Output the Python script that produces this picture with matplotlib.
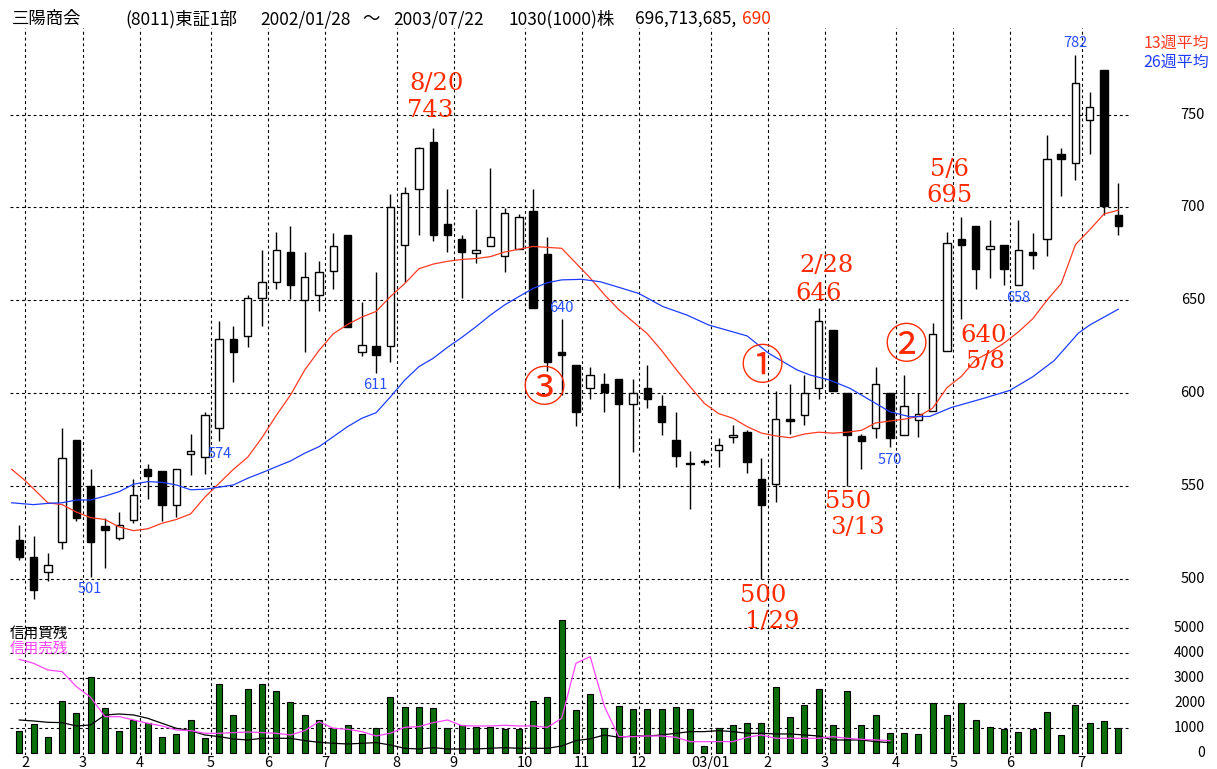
import numpy as np
import pandas as pd
import matplotlib
matplotlib.use('Agg')
import matplotlib.pyplot as plt
import matplotlib.transforms as mtransforms

plt.rcParams['font.family'] = ['Noto Sans CJK JP', 'DejaVu Sans']

# ---------------- data (weekly, 2002/01/28 - 2003/07/22) ----------------
start_date = '2002-01-28'
opens = [521, 512, 504, 520, 575, 550, 528.5, 522, 531.5, 559, 558, 540, 567, 565.5, 581, 629, 631, 651, 660, 676,
         650, 653, 666, 685, 622, 625.4, 625.5, 680, 710, 735, 691, 683, 675.6, 679, 674, 677.6, 698, 675, 622, 615,
         602.6, 605, 607.5, 594, 602.6, 593, 575, 562.5, 563, 569.4, 576.3, 579, 554, 551, 586, 588, 603, 634, 600, 577,
         581.5, 600, 577.6, 585.6, 590.6, 622.7, 683, 690, 677.6, 680, 658, 676, 683, 729, 724, 747, 774, 696]
highs = [529, 523, 514, 581, 575, 559, 533, 536, 554, 562, 558, 559, 578, 590, 639, 636, 653, 677, 687, 690,
         676, 671, 686, 685, 649, 665, 707, 711, 732.3, 743, 710, 685, 699, 721, 699.5, 696.4, 710, 684, 640, 615,
         614, 611, 607.5, 607.5, 615, 599, 590, 569, 564.6, 575.7, 583, 580, 565, 601, 605, 610, 646, 634, 600, 578,
         614, 600, 610, 600, 638, 687, 695, 690, 693, 680, 693, 686, 739, 732, 782, 762, 774, 713]
lows = [510, 489, 499, 516, 531, 501, 506, 521, 530, 543, 531, 533.5, 556, 556.5, 574, 606, 625, 636, 656, 650.5,
        622, 644, 656, 635.5, 620, 611, 617, 660, 685, 682, 676, 651, 670, 679, 665, 677.6, 646, 612, 599, 582.5,
        597, 590, 549, 568.5, 592, 577.5, 560, 537.5, 561.4, 560, 573, 557, 500, 541.6, 578, 583, 597, 601, 550, 559,
        576, 570.8, 577.6, 576.6, 590.6, 622.7, 640, 656, 662, 658, 658, 667, 674, 706, 715, 729, 696, 685]
closes = [512, 494, 507.5, 565, 533, 520, 526.4, 529, 545, 555.6, 540, 559, 569, 588, 629, 622.4, 651, 660, 677, 658,
          662.5, 665, 679, 635.5, 626, 620.6, 700, 708, 732, 685, 685, 676, 677, 684, 697, 695, 646, 617, 620.6, 590,
          609.8, 600.5, 594, 600, 597, 584.7, 566, 562, 563, 572, 577.5, 563, 540, 586, 585, 600, 639, 601, 577.6, 574.4,
          605, 576, 593, 589, 632, 681, 680, 667, 679.3, 667, 677, 674.5, 726, 726, 767, 754, 701, 690]
volumes = [907, 1173, 667, 2107, 1627, 3067, 1800, 907, 1333, 1200, 667, 773, 1333, 600, 2773, 1533, 2573, 2773, 2493, 2053,
           1533, 1333, 1000, 1133, 773, 1000, 2240, 1867, 1867, 1800, 1000, 1133, 1067, 1067, 960, 960, 2107, 2240, 5333, 1733,
           2373, 1000, 1893, 1760, 1760, 1760, 1840, 1760, 300, 1000, 1133, 1227, 1227, 2667, 1440, 1933, 2573, 1133, 2480, 1133,
           1520, 800, 800, 760, 2000, 1520, 2000, 1333, 1040, 960, 853, 960, 1667, 720, 1933, 1227, 1293, 1000]
margin_buy = [1333, 1293, 1240, 1227, 1093, 1133, 1533, 1573, 1533, 1400, 1200, 1000, 907, 733, 667, 573, 533, 600, 600, 600,
              507, 440, 400, 373, 400, 427, 333, 200, 173, 227, 173, 173, 173, 200, 227, 200, 200, 200, 293, 507,
              580, 733, 640, 693, 693, 733, 800, 867, 867, 907, 867, 800, 800, 773, 773, 733, 693, 533, 533, 533, 467, 427]
margin_sell = [3760, 3600, 3333, 3267, 2667, 2240, 1467, 1467, 1333, 1200, 1093, 933, 907, 800, 800, 827, 853, 827, 800, 733,
               907, 1267, 1000, 960, 867, 693, 800, 1040, 1067, 1227, 1333, 1107, 1093, 1093, 1120, 1093, 1093, 1040, 1400, 3600,
               3867, 1867, 667, 667, 693, 693, 640, 467, 467, 467, 467, 640, 733, 600, 600, 600, 600, 667, 600, 560, 533, 507]
# 13-week MA (red): week position / value
ma13_x = [-0.53, 0.4, 2, 3, 4, 5, 6, 7, 8, 9, 10, 11, 12, 13, 14, 15, 16, 17, 18, 19, 20, 21, 22, 23, 24, 25, 26, 27, 28,
          29, 30, 31, 32, 33, 34, 35, 36, 37, 38, 39, 40, 41, 42, 43, 44, 45, 46, 47, 48, 49, 50, 51, 52, 53, 54, 55,
          56, 57, 58, 59, 60, 61, 62, 63, 64, 65, 66, 67, 68, 69, 70, 71, 72, 73, 74, 75, 76, 77]
ma13_v = [559, 553, 541, 540, 536, 533, 532, 528, 526, 527, 530, 532, 535, 544, 551.5, 559, 565.5, 576, 588, 599, 612.5,
          623, 632, 637, 641, 644, 652, 659, 667, 669.5, 671, 672, 672.5, 673.5, 676, 677.5, 679, 678.5, 678, 670, 662,
          653, 645, 638.5, 632, 623, 613, 603.5, 594.5, 589, 586.5, 582, 578.5, 577, 576, 578, 579, 578.5, 579, 580,
          584, 585, 586, 587.5, 592, 603, 609, 618, 622, 627, 633, 640, 650, 659, 680, 688, 696.5, 698.5]
# 26-week MA (blue)
ma26_x = [-0.53, 1, 2, 3, 4, 5, 6, 7, 8, 9, 10, 11, 12, 13, 14, 15, 16, 17, 18, 19, 20, 21, 22, 23, 24, 25, 26, 27,
          28, 29, 30, 31, 32, 33, 34, 35, 36, 37, 38, 39.4, 40.7, 42, 43.4, 45.1, 46.8, 48.3, 50, 51, 52.5, 53.5, 54.5,
          55.4, 56.8, 58.2, 59.6, 61, 62.4, 63.8, 65.3, 67.6, 69.4, 71, 72.5, 74.2, 75, 77]
ma26_v = [541, 540, 540.7, 541, 542.5, 542.5, 544.6, 547, 551, 552.4, 552, 550.6, 548, 548.3, 549.4, 550.6, 554.2,
          557.2, 560.4, 563.5, 567.7, 571.2, 576.6, 582, 586.5, 589.5, 598, 607, 614.3, 618.8, 624.7, 630, 635.8, 642,
          647.5, 652, 656.4, 659.5, 661, 661.3, 660, 657, 653.7, 646.6, 642, 636.7, 633, 630.8, 621.5, 617, 612.5, 609.8,
          607, 602.6, 596.3, 590, 587.3, 587.5, 592.3, 597.3, 601.5, 608.8, 617.5, 632.3, 636.7, 645.2]
price_ticks = [500, 550, 600, 650, 700, 750]
volume_ticks = [0, 1000, 2000, 3000, 4000, 5000]

n = len(opens)
idx = np.arange(n)
o = np.array(opens); h = np.array(highs); l = np.array(lows); c = np.array(closes)

# ---------------- figure ----------------
W, H = 1217, 769
fig = plt.figure(figsize=(W / 100, H / 100), dpi=100)
fig.patch.set_facecolor('white')


def px_rect(left, top, right, bottom):
    return [left / W, 1 - bottom / H, (right - left) / W, (bottom - top) / H]


def ptext(x, y, s, **kw):
    return fig.text(x / W, 1 - y / H, s, **kw)


ax = fig.add_axes(px_rect(10, 28, 1130, 612))
axv = fig.add_axes(px_rect(10, 612, 1130, 755))
xmin, xmax = -0.652, 77.82
for a in (ax, axv):
    a.set_xlim(xmin, xmax)
    a.axis('off')
ax.set_ylim(482.2, 796.6)
axv.set_ylim(-68, 5652)

dash = (0, (2.6, 2.6))
# month boundaries
dates = pd.date_range(start_date, periods=n, freq='7D')
month_starts = [i for i in range(1, n) if dates[i].month != dates[i - 1].month]
grid_x = [i - 0.57 for i in month_starts]
for gx in grid_x:
    ax.axvline(gx, color='black', lw=0.8, ls=dash, zorder=1)
    axv.axvline(gx, color='black', lw=0.8, ls=dash, zorder=1)
for p in price_ticks:
    ax.axhline(p, color='black', lw=0.8, ls=dash, zorder=1)
for v in volume_ticks[1:]:
    axv.axhline(v, color='black', lw=0.8, ls=dash, zorder=1)

# candles
ax.vlines(idx, l, h, color='black', lw=1.0, zorder=2)
up = c >= o
body_bottom = np.minimum(o, c)
body_h = np.maximum(np.abs(c - o), 0.6)
ax.bar(idx[up], body_h[up], bottom=body_bottom[up], width=0.52, color='white', edgecolor='black', lw=1.0, zorder=3)
ax.bar(idx[~up], body_h[~up], bottom=body_bottom[~up], width=0.52, color='black', edgecolor='black', lw=1.0, zorder=3)

# moving averages
ax.plot(ma13_x, ma13_v, color='#ff3a22', lw=0.9, zorder=4)
ax.plot(ma26_x, ma26_v, color='#1e3cff', lw=0.9, zorder=4)

# volume
axv.bar(idx, volumes, width=0.42, color='#0b6e0b', edgecolor='black', lw=0.8, zorder=2)
axv.plot(np.arange(len(margin_buy)), margin_buy, color='black', lw=0.9, zorder=3)
axv.plot(np.arange(len(margin_sell)), margin_sell, color='#ff44ff', lw=0.9, zorder=3)

# ---------------- texts ----------------
tf_p = mtransforms.blended_transform_factory(fig.transFigure, ax.transData)
for p in price_ticks:
    fig.text(1205 / W, p, str(p), transform=tf_p, ha='right', va='center', fontsize=10.5, color='black')
tf_v = mtransforms.blended_transform_factory(fig.transFigure, axv.transData)
for v in volume_ticks:
    fig.text(1205 / W, v, str(v), transform=tf_v, ha='right', va='center', fontsize=10, color='black')

tf_m = mtransforms.blended_transform_factory(axv.transData, fig.transFigure)
for i, gx in zip(month_starts, grid_x):
    d = dates[i]
    lab = f"{d.year % 100:02d}/01" if d.month == 1 else str(d.month)
    fig.text(gx, 1 - 763 / H, lab, transform=tf_m, ha='center', va='center', fontsize=10.5, color='black')

# title
fs_t = 12.5
ptext(12, 19, '三陽商会', ha='left', va='center', fontsize=fs_t)
ptext(125, 19, '(8011)東証1部', ha='left', va='center', fontsize=fs_t)
ptext(260, 19, '2002/01/28', ha='left', va='center', fontsize=fs_t)
ptext(362, 19, '～', ha='left', va='center', fontsize=fs_t)
ptext(393, 19, '2003/07/22', ha='left', va='center', fontsize=fs_t)
ptext(508, 19, '1030(1000)株', ha='left', va='center', fontsize=fs_t)
ptext(635, 19, '696,713,685,', ha='left', va='center', fontsize=fs_t)
ptext(742, 19, '690', ha='left', va='center', fontsize=fs_t, color='#ff2a00')

# legend
ptext(1209, 43, '13週平均', ha='right', va='center', fontsize=11.5, color='#ff3a22')
ptext(1209, 62, '26週平均', ha='right', va='center', fontsize=11.5, color='#1e3cff')
ptext(10, 634, '信用買残', ha='left', va='center', fontsize=10.5, color='black', zorder=5)
ptext(10, 649, '信用売残', ha='left', va='center', fontsize=10.5, color='#ff44ff', zorder=5)

# blue value labels
blue = '#2850ff'
for (x, y, s) in [(90, 589, '501'), (219.5, 454, '574'), (375, 385, '611'), (561.5, 308.5, '640'),
                  (889.5, 460.5, '570'), (1018, 297.5, '658'), (1075.5, 43.3, '782')]:
    ptext(x, y, s, ha='center', va='center', fontsize=10.5, color=blue)

# red annotations
red = '#ff2a00'
serif = ['DejaVu Serif']
for (x, y, s) in [(436.7, 84, '8/20'), (430, 110.5, '743'), (826.7, 266, '2/28'), (818.7, 293, '646'),
                  (949, 169, '5/6'), (949, 196, '695'), (984, 336, '640'), (985, 361.7, '5/8'),
                  (848, 501, '550'), (857, 528, '3/13'), (763, 595, '500'), (772, 622, '1/29')]:
    ptext(x, y, s, ha='center', va='center', fontsize=17.5, color=red, family=serif)
for (x, y, s) in [(543.5, 390, '③'), (762.5, 368, '①'), (906, 347, '②')]:
    ptext(x, y, s, ha='center', va='center', fontsize=31, color=red)

fig.savefig('out.png', dpi=100, facecolor='white')
